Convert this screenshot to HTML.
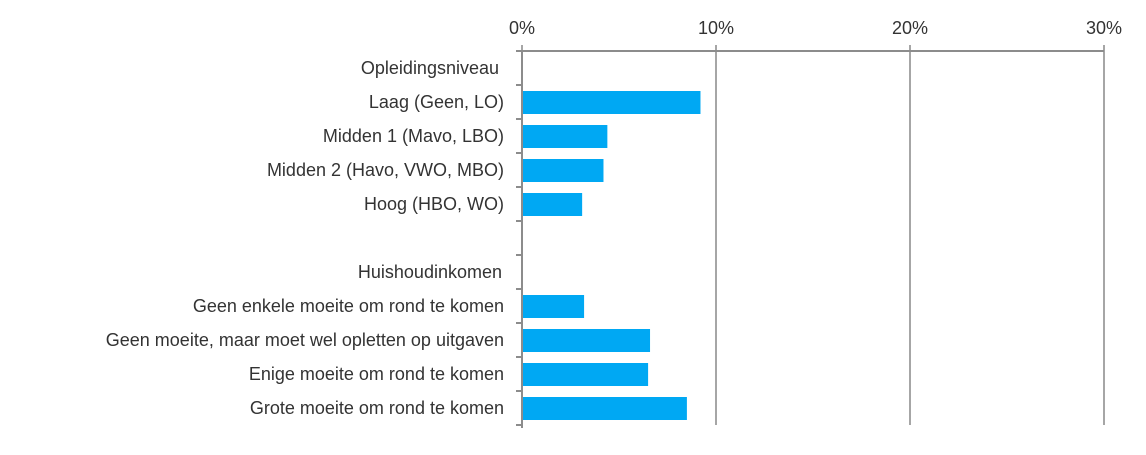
<!DOCTYPE html>
<html><head><meta charset="utf-8"><style>
html,body{margin:0;padding:0;background:#fff;}
svg text{font-family:"Liberation Sans",sans-serif;font-size:18px;fill:#333;}
</style></head><body>
<svg id="chart" width="1146" height="450" xmlns="http://www.w3.org/2000/svg"></svg>
<script>
const categories=["Opleidingsniveau","Laag (Geen, LO)","Midden 1 (Mavo, LBO)","Midden 2 (Havo, VWO, MBO)","Hoog (HBO, WO)","","Huishoudinkomen","Geen enkele moeite om rond te komen","Geen moeite, maar moet wel opletten op uitgaven","Enige moeite om rond te komen","Grote moeite om rond te komen"];
const values=[null,9.2,4.4,4.2,3.1,null,null,3.2,6.6,6.5,8.5];
const tickValues=[0,10,20,30];
const tickLabels=["0%","10%","20%","30%"];
const svgEl=document.getElementById('chart');
const NS="http://www.w3.org/2000/svg";
const x0=522,pxPer=19.4,plotTop=51,band=34;
const xs=v=>x0+v*pxPer;
const ys=i=>plotTop+i*band;
function mk(t,a){const e=document.createElementNS(NS,t);for(const k in a)e.setAttribute(k,a[k]);svgEl.appendChild(e);return e;}
tickValues.forEach((v,i)=>{
 const g=mk('line',{x1:xs(v),x2:xs(v),y1:45,y2:425,stroke:'#a6a6a6','stroke-width':2});
 
 
 const t=mk('text',{x:xs(v),y:34,'text-anchor':'middle'});t.textContent=tickLabels[i];
 
 
});
const ax=mk('line',{x1:x0,x2:1104,y1:plotTop,y2:plotTop,stroke:'#8c8c8c','stroke-width':2});


const ay=mk('line',{x1:x0,x2:x0,y1:plotTop,y2:428,stroke:'#8c8c8c','stroke-width':2});


for(let i=0;i<=categories.length;i++){
 const tk=mk('line',{x1:516,x2:x0,y1:ys(i),y2:ys(i),stroke:'#8c8c8c','stroke-width':2});
 
 
}
categories.forEach((c,i)=>{
 const cy=ys(i)+band/2;
 if(c){
  const lx=c==="Opleidingsniveau"?499:(c==="Huishoudinkomen"?502:504);
  const t=mk('text',{x:lx,y:cy+6,'text-anchor':'end'});t.textContent=c;
  
  
 }
 if(values[i]!=null){
  const b=mk('rect',{x:x0+1,y:cy-11,width:xs(values[i])-x0-1,height:23,fill:'#00a8f3'});
  
  
 }
});
</script>
</body></html>
